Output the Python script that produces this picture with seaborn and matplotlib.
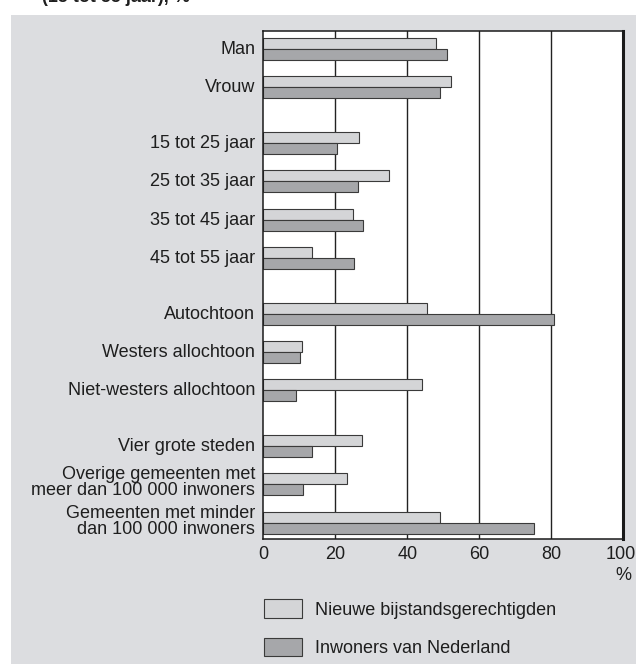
import numpy as np
import pandas as pd
import matplotlib
matplotlib.use("Agg")
import matplotlib.pyplot as plt
import matplotlib.transforms as mtransforms
from matplotlib.patches import Rectangle, Patch
import seaborn as sns

# ---------------- data ----------------
groups = [
    ["Man", "Vrouw"],
    ["15 tot 25 jaar", "25 tot 35 jaar", "35 tot 45 jaar", "45 tot 55 jaar"],
    ["Autochtoon", "Westers allochtoon", "Niet-westers allochtoon"],
    ["Vier grote steden",
     "Overige gemeenten met\nmeer dan 100 000 inwoners",
     "Gemeenten met minder\ndan 100 000 inwoners"],
]
series_names = ["Nieuwe bijstandsgerechtigden", "Inwoners van Nederland"]
nieuwe = [48, 52, 26.7, 35, 25, 13.6, 45.4, 10.7, 44.1, 27.3, 23.3, 49.2]
inwoners = [50.9, 49.2, 20.5, 26.4, 27.8, 25.3, 80.7, 10.1, 9.2, 13.6, 11.1, 75.3]
xticks = [0, 20, 40, 60, 80, 100]
title_text = "(15 tot 55 jaar), %"

# ---------------- layout ----------------
GAP = 1.45  # distance between groups (in category steps)
categories, positions = [], []
p = 0.0
for gi, g in enumerate(groups):
    if gi > 0:
        p += GAP - 1
    for c in g:
        categories.append(c)
        positions.append(round(p, 3))
        p += 1
positions = np.array(positions)

df = pd.DataFrame({
    "category": categories * 2,
    "pos": np.concatenate([positions, positions]),
    "series": [series_names[0]] * len(categories) + [series_names[1]] * len(categories),
    "value": nieuwe + inwoners,
})

W, H = 636, 664
DPI = 100
FS = 13
font = "Liberation Sans"
txt_color = "#1e1e1e"
bg_gray = "#dcdde0"
light = "#d4d5d7"
dark = "#a6a7aa"
edge = "#3a3a3a"

sns.set_theme(style="white")
plt.rcParams["font.family"] = [font, "DejaVu Sans"]

fig = plt.figure(figsize=(W / DPI, H / DPI), dpi=DPI, facecolor="white")
fig.patches.append(Rectangle((11 / W, 0), 1 - 11 / W, 1 - 15 / H,
                             transform=fig.transFigure, facecolor=bg_gray,
                             edgecolor="none", zorder=-10))

ax_left, ax_right = 263.3, 623.3
ax_top, ax_bottom = 30.7, 539.3
ax = fig.add_axes([ax_left / W, 1 - ax_bottom / H,
                   (ax_right - ax_left) / W, (ax_bottom - ax_top) / H])
ax.set_facecolor("white")

sns.barplot(data=df, x="value", y="pos", hue="series", hue_order=series_names,
            orient="y", native_scale=True, width=0.574, dodge=True,
            palette=[light, dark], saturation=1, edgecolor=edge, linewidth=0.8,
            errorbar=None, legend=False, ax=ax, zorder=3)

ax.set_xlim(0, 100)
ax.set_ylim(positions[-1] + 0.43, -0.48)
ax.set_xticks(xticks)
ax.set_xticklabels([str(t) for t in xticks])
ax.set_yticks(positions)
ax.set_yticklabels([""] * len(positions))
ax.set_xlabel("")
ax.set_ylabel("")
ax.tick_params(axis="both", length=0, labelsize=FS, colors=txt_color)
ax.tick_params(axis="x", pad=5)

# category labels (placed line by line for a tight line spacing)
base_tr = ax.get_yaxis_transform()
for cat, pos in zip(categories, positions):
    lines = cat.split("\n")
    if len(lines) == 1:
        offsets = [5]
    else:
        offsets = [-5, 11]
    for line, off in zip(lines, offsets):
        tr = base_tr + mtransforms.ScaledTranslation(-8.3 / DPI, -off / DPI,
                                                     fig.dpi_scale_trans)
        ax.text(0, pos, line, transform=tr, ha="right", va="baseline",
                fontsize=FS, color=txt_color)

# nudge the "100" label slightly left so it stays inside the figure
lbl = ax.get_xticklabels()[-1]
lbl.set_transform(lbl.get_transform() +
                  mtransforms.ScaledTranslation(-3 / DPI, 0, fig.dpi_scale_trans))

for v in xticks[1:-1]:
    ax.axvline(v, color="#222222", lw=1.0, zorder=1)

for name, sp in ax.spines.items():
    sp.set_visible(True)
    sp.set_color("#1a1a1a")
    sp.set_linewidth(1.1)
    sp.set_zorder(5)
ax.spines["right"].set_linewidth(2.2)

# "%" under the 100 tick
ax.text(100, -0.072, "%", transform=ax.get_xaxis_transform(), ha="center",
        va="center", fontsize=FS, color=txt_color)

# legend
handles = [Patch(facecolor=light, edgecolor=edge, linewidth=0.8),
           Patch(facecolor=dark, edgecolor=edge, linewidth=0.8)]
fig.legend(handles, series_names, loc="upper left",
           bbox_to_anchor=(263.7 / W, 1 - 599.3 / H), borderaxespad=0,
           borderpad=0, frameon=False, fontsize=FS, handlelength=2.1,
           handleheight=1.22, handletextpad=0.76, labelspacing=1.05,
           labelcolor=txt_color)

# title line, cut off at the top edge as in the source
fig.text(42 / W, 1 - 1.5 / H, title_text, fontsize=FS, fontweight="bold",
         color=txt_color, ha="left", va="baseline")

fig.savefig("out.png", dpi=DPI, facecolor="white")
